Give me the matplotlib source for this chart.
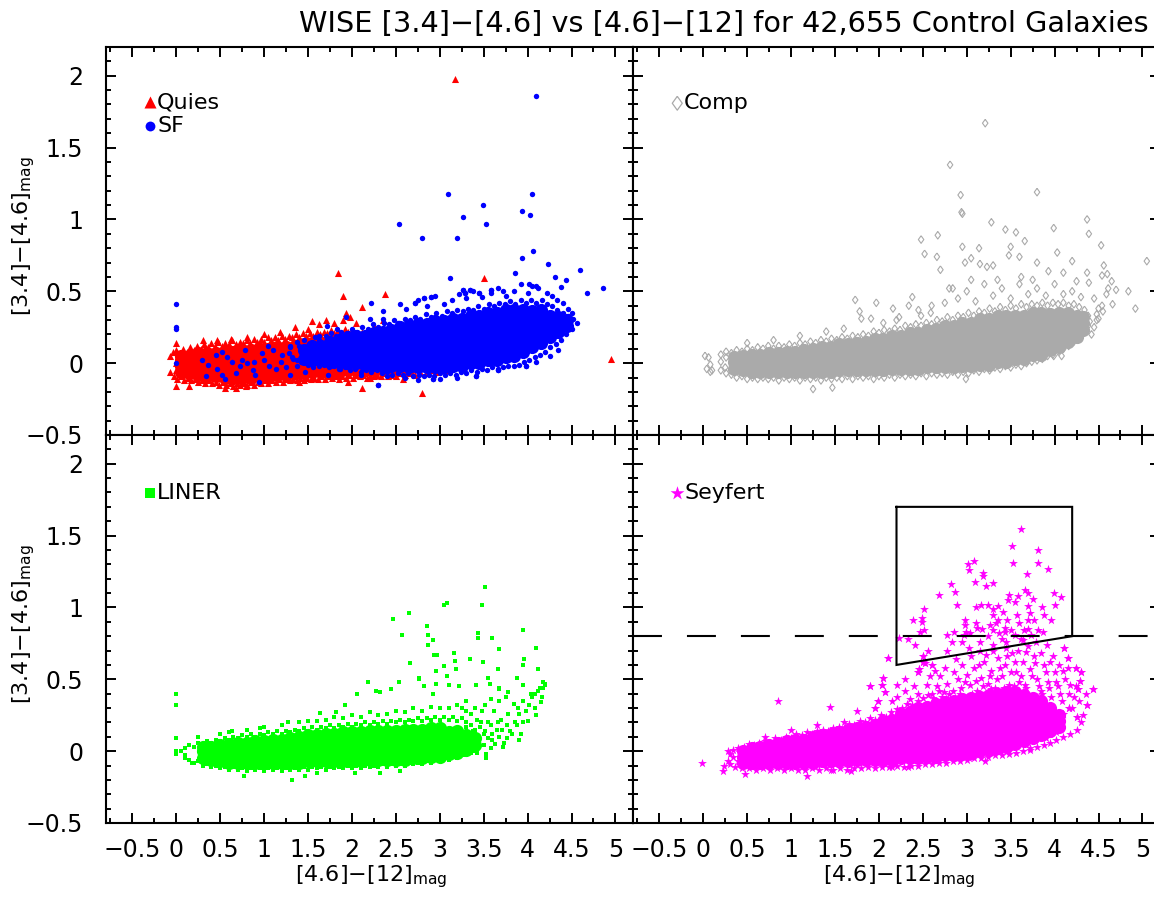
import matplotlib
matplotlib.use("Agg")
import matplotlib.pyplot as plt
from matplotlib.ticker import MultipleLocator

plt.rcParams["font.family"] = ["DejaVu Sans"]
plt.rcParams["mathtext.fontset"] = "dejavusans"

# ---------------------------------------------------------------- text
TITLE = "WISE [3.4]\u2212[4.6] vs [4.6]\u2212[12] for 42,655 Control Galaxies"
X_LABEL = "[4.6]\u2212[12]$_{\\mathrm{mag}}$"
Y_LABEL = "[3.4]\u2212[4.6]$_{\\mathrm{mag}}$"
X_TICKS = [-0.5, 0, 0.5, 1, 1.5, 2, 2.5, 3, 3.5, 4, 4.5, 5]
X_TICK_LABELS = ["\u22120.5", "0", "0.5", "1", "1.5", "2", "2.5", "3", "3.5", "4", "4.5", "5"]
Y_TICKS = [-0.5, 0, 0.5, 1, 1.5, 2]
Y_TICK_LABELS = ["\u22120.5", "0", "0.5", "1", "1.5", "2"]
CLASS_NAMES = ["Quies", "SF", "Comp", "LINER", "Seyfert"]

# ---------------------------------------------------------------- data
# Dense parts of each population: (colour [4.6]-[12], [colours [3.4]-[4.6]])
QUIES_CORE = [
    (0.05, [-0.06, -0.02, 0.02, 0.05]),
    (0.15, [-0.07, -0.03, 0.01, 0.05]),
    (0.25, [-0.08, -0.04, 0.00, 0.04, 0.07]),
    (0.35, [-0.09, -0.05, -0.01, 0.03, 0.07]),
    (0.45, [-0.09, -0.05, -0.01, 0.03, 0.07]),
    (0.55, [-0.10, -0.06, -0.02, 0.02, 0.06, 0.08]),
    (0.65, [-0.10, -0.06, -0.02, 0.02, 0.06, 0.08]),
    (0.75, [-0.10, -0.06, -0.02, 0.02, 0.06, 0.09]),
    (0.85, [-0.10, -0.06, -0.02, 0.02, 0.06, 0.09]),
    (0.95, [-0.09, -0.05, -0.01, 0.03, 0.07, 0.10]),
    (1.05, [-0.09, -0.05, -0.01, 0.03, 0.07, 0.10]),
    (1.15, [-0.08, -0.04, 0.00, 0.04, 0.08, 0.11]),
    (1.25, [-0.08, -0.04, 0.00, 0.04, 0.08, 0.11]),
    (1.35, [-0.07, -0.03, 0.01, 0.05, 0.09, 0.12]),
    (1.45, [-0.07, -0.03, 0.01, 0.05, 0.09, 0.13]),
    (1.55, [-0.06, -0.02, 0.02, 0.06, 0.10, 0.14]),
    (1.65, [-0.06, -0.02, 0.02, 0.06, 0.10, 0.14]),
    (1.75, [-0.06, -0.02, 0.02, 0.06, 0.10, 0.15]),
    (1.85, [-0.06, -0.02, 0.02, 0.06, 0.10, 0.15]),
    (1.95, [-0.05, -0.01, 0.03, 0.07, 0.11, 0.15]),
    (2.05, [-0.05, -0.01, 0.03, 0.07, 0.11, 0.15]),
    (2.15, [-0.05, -0.01, 0.03, 0.07, 0.11]),
    (2.25, [-0.05, -0.01, 0.03, 0.07, 0.11]),
    (2.35, [-0.05, -0.01, 0.03, 0.07]),
    (2.45, [-0.05, -0.01, 0.03]),
    (2.55, [-0.04, 0.00]),
    (2.65, [-0.04, 0.00]),
]
QUIES_POINTS = [
    (-0.07, 0.05), (-0.04, 0.08), (0.00, 0.09), (0.04, 0.07), (0.08, 0.10), (0.12, 0.08), (0.16, 0.11),
    (0.20, 0.09), (0.24, 0.12), (0.28, 0.10), (0.32, 0.13), (0.36, 0.11), (0.40, 0.14), (0.44, 0.12),
    (0.48, 0.15), (0.52, 0.12), (0.56, 0.14), (0.60, 0.13), (0.64, 0.16), (0.68, 0.13), (0.72, 0.15),
    (0.76, 0.14), (0.80, 0.16), (0.84, 0.14), (0.88, 0.17), (0.92, 0.15), (0.96, 0.17), (1.00, 0.15),
    (1.04, 0.18), (1.08, 0.16), (1.12, 0.18), (1.16, 0.16), (1.20, 0.19), (1.24, 0.17), (1.28, 0.19),
    (1.32, 0.18), (1.36, 0.20), (1.40, 0.18), (1.44, 0.21), (1.48, 0.19), (1.52, 0.21), (1.56, 0.19),
    (1.60, 0.22), (1.64, 0.20), (1.68, 0.22), (1.72, 0.21), (1.76, 0.23), (1.80, 0.21), (1.84, 0.23),
    (1.88, 0.21), (1.92, 0.24), (1.96, 0.22), (2.00, 0.23), (2.06, 0.21), (2.12, 0.22), (2.18, 0.20),
    (2.24, 0.21), (2.30, 0.18), (2.36, 0.19), (2.42, 0.16), (2.50, 0.13),
    (-0.07, -0.06), (-0.03, -0.09), (0.01, -0.11), (0.05, -0.09), (0.09, -0.12), (0.13, -0.10),
    (0.17, -0.12), (0.21, -0.11), (0.25, -0.13), (0.29, -0.12), (0.33, -0.14), (0.37, -0.12),
    (0.41, -0.14), (0.45, -0.13), (0.49, -0.15), (0.53, -0.13), (0.57, -0.15), (0.61, -0.14),
    (0.65, -0.16), (0.69, -0.14), (0.73, -0.15), (0.77, -0.14), (0.81, -0.15), (0.85, -0.13),
    (0.89, -0.15), (0.93, -0.13), (0.97, -0.14), (1.01, -0.12), (1.05, -0.14), (1.09, -0.12),
    (1.13, -0.13), (1.17, -0.11), (1.21, -0.13), (1.25, -0.11), (1.29, -0.12), (1.33, -0.11),
    (1.37, -0.12), (1.41, -0.10), (1.45, -0.12), (1.49, -0.10), (1.53, -0.11), (1.57, -0.10),
    (1.61, -0.11), (1.65, -0.09), (1.69, -0.11), (1.73, -0.09), (1.77, -0.10), (1.81, -0.09),
    (1.85, -0.11), (1.89, -0.09), (1.93, -0.10), (1.97, -0.08), (2.01, -0.10), (2.05, -0.08),
    (2.09, -0.09), (2.13, -0.08), (2.17, -0.10), (2.21, -0.08), (2.25, -0.09), (2.29, -0.08),
    (2.33, -0.09), (2.37, -0.07), (2.41, -0.09), (2.45, -0.08), (2.50, -0.09), (2.55, -0.07),
    (2.60, -0.08), (2.66, -0.07), (2.72, -0.08), (2.78, -0.06), (2.84, -0.07), (2.90, -0.05),
    (2.96, -0.06), (3.02, -0.04), (3.10, -0.05),
    (0.30, 0.16), (0.46, 0.16), (0.62, 0.17), (0.80, 0.18), (1.00, 0.20), (1.18, 0.22), (1.35, 0.25),
    (1.50, 0.24), (1.62, 0.27), (1.71, 0.30), (1.80, 0.28), (1.90, 0.30), (2.35, 0.30), (2.12, 0.39),
    (1.93, 0.35), (1.90, 0.47), (2.38, 0.48), (1.84, 0.63), (3.50, 0.59), (3.17, 1.98), (4.95, 0.03),
    (0.00, 0.14), (2.25, 0.26), (2.05, 0.28), (1.55, 0.29), (1.98, 0.32),
    (2.80, -0.21), (2.11, -0.17), (1.95, -0.13), (0.00, -0.16), (0.15, -0.16), (0.79, -0.16),
    (2.58, -0.11), (2.20, -0.10), (0.68, -0.17), (1.40, -0.13), (0.55, -0.17), (0.00, 0.00),
    (0.00, -0.05),
]

SF_CORE = [
    (1.45, [0.03, 0.09]),
    (1.55, [0.02, 0.07, 0.12]),
    (1.65, [0.02, 0.07, 0.12]),
    (1.75, [0.01, 0.06, 0.11, 0.15]),
    (1.85, [0.01, 0.06, 0.11, 0.16]),
    (1.95, [0.00, 0.05, 0.10, 0.15, 0.18]),
    (2.05, [0.00, 0.05, 0.10, 0.15, 0.19]),
    (2.15, [-0.01, 0.04, 0.09, 0.14, 0.19]),
    (2.25, [-0.01, 0.04, 0.09, 0.14, 0.19, 0.21]),
    (2.35, [-0.02, 0.03, 0.08, 0.13, 0.18, 0.22]),
    (2.45, [-0.02, 0.03, 0.08, 0.13, 0.18, 0.23]),
    (2.55, [-0.02, 0.03, 0.08, 0.13, 0.18, 0.23, 0.25]),
    (2.65, [-0.03, 0.02, 0.07, 0.12, 0.17, 0.22, 0.26]),
    (2.75, [-0.03, 0.02, 0.07, 0.12, 0.17, 0.22, 0.27]),
    (2.85, [-0.03, 0.02, 0.07, 0.12, 0.17, 0.22, 0.27]),
    (2.95, [-0.03, 0.02, 0.07, 0.12, 0.17, 0.22, 0.27, 0.29]),
    (3.05, [-0.03, 0.02, 0.07, 0.12, 0.17, 0.22, 0.27, 0.29]),
    (3.15, [-0.02, 0.03, 0.08, 0.13, 0.18, 0.23, 0.28, 0.31]),
    (3.25, [-0.02, 0.03, 0.08, 0.13, 0.18, 0.23, 0.28, 0.31]),
    (3.35, [0.00, 0.05, 0.10, 0.15, 0.20, 0.25, 0.30, 0.33]),
    (3.45, [0.00, 0.05, 0.10, 0.15, 0.20, 0.25, 0.30, 0.33]),
    (3.55, [0.02, 0.07, 0.12, 0.17, 0.22, 0.27, 0.32, 0.35]),
    (3.65, [0.02, 0.07, 0.12, 0.17, 0.22, 0.27, 0.32, 0.35]),
    (3.75, [0.04, 0.09, 0.14, 0.19, 0.24, 0.29, 0.34, 0.37]),
    (3.85, [0.05, 0.10, 0.15, 0.20, 0.25, 0.30, 0.35, 0.37]),
    (3.95, [0.08, 0.13, 0.18, 0.23, 0.28, 0.33, 0.37]),
    (4.05, [0.11, 0.16, 0.21, 0.26, 0.31, 0.36]),
    (4.15, [0.14, 0.19, 0.24, 0.29, 0.34, 0.37]),
    (4.25, [0.18, 0.23, 0.28, 0.33]),
    (4.35, [0.22, 0.27, 0.32]),
    (4.45, [0.26, 0.30]),
]
SF_POINTS = [
    (1.30, 0.12), (1.38, 0.15), (1.45, 0.16), (1.52, 0.14), (1.58, 0.18), (1.63, 0.16), (1.70, 0.19),
    (1.76, 0.21), (1.82, 0.19), (1.88, 0.22), (1.94, 0.21), (2.00, 0.24), (2.06, 0.22), (2.12, 0.25),
    (2.18, 0.24), (2.24, 0.27), (2.30, 0.25), (2.36, 0.28), (2.42, 0.27), (2.48, 0.30), (2.54, 0.28),
    (2.60, 0.31), (2.66, 0.30), (2.72, 0.32), (2.78, 0.31), (2.84, 0.34), (2.90, 0.32), (2.96, 0.35),
    (3.02, 0.33), (3.08, 0.36), (3.14, 0.35), (3.20, 0.37), (3.26, 0.36), (3.32, 0.38), (3.38, 0.37),
    (3.44, 0.40), (3.50, 0.38), (3.56, 0.41), (3.62, 0.40), (3.68, 0.42), (3.74, 0.41), (3.80, 0.43),
    (3.86, 0.41), (3.92, 0.44), (3.98, 0.42), (4.04, 0.44), (4.10, 0.42), (4.16, 0.44), (4.22, 0.41),
    (4.28, 0.40), (4.34, 0.37), (4.40, 0.35), (4.46, 0.33), (4.52, 0.31), (4.56, 0.28),
    (4.50, 0.24), (4.44, 0.20), (4.38, 0.16), (4.32, 0.13), (4.26, 0.11), (4.20, 0.08), (4.14, 0.06),
    (4.08, 0.04), (4.02, 0.02), (3.96, 0.01), (3.90, -0.01), (3.84, -0.02), (3.78, -0.02),
    (3.72, -0.03), (3.66, -0.04), (3.60, -0.03), (3.54, -0.05), (3.48, -0.04), (3.42, -0.06),
    (3.36, -0.05), (3.30, -0.07), (3.24, -0.06), (3.18, -0.08), (3.12, -0.07), (3.06, -0.08),
    (3.00, -0.07), (2.94, -0.09), (2.88, -0.08), (2.82, -0.09), (2.76, -0.08), (2.70, -0.09),
    (2.64, -0.07), (2.58, -0.08), (2.52, -0.07), (2.46, -0.08), (2.40, -0.06), (2.34, -0.07),
    (2.28, -0.05), (2.22, -0.06), (2.16, -0.05), (2.10, -0.06), (2.04, -0.04), (1.98, -0.05),
    (1.92, -0.03), (1.86, -0.04), (1.80, -0.02), (1.74, -0.03), (1.68, -0.01), (1.62, -0.02),
    (1.56, 0.00), (1.50, -0.01), (1.44, 0.01), (1.38, 0.02), (1.32, 0.04), (1.28, 0.07),
    (2.20, 0.31), (2.35, 0.36), (2.55, 0.41), (2.62, 0.38), (2.75, 0.44), (2.86, 0.40), (2.95, 0.47),
    (3.05, 0.41), (3.14, 0.44), (3.22, 0.48), (3.30, 0.45), (3.38, 0.50), (3.48, 0.46), (3.58, 0.49),
    (3.66, 0.52), (3.75, 0.47), (3.85, 0.50), (3.92, 0.55), (4.00, 0.49), (4.12, 0.52), (4.22, 0.49),
    (4.28, 0.47), (4.34, 0.44), (4.40, 0.42), (4.46, 0.38), (4.50, 0.35),
    (3.26, 0.51), (3.29, 0.49), (3.34, 0.51), (3.45, 0.49), (3.58, 0.51), (3.72, 0.50),
    (2.22, 0.42), (2.72, 0.42), (2.82, 0.45), (2.90, 0.46),
    (2.60, -0.10), (2.75, -0.12), (3.00, -0.11), (3.20, -0.10), (3.41, -0.09), (3.66, -0.05),
    (3.98, -0.02), (4.10, 0.01), (4.25, 0.05), (4.35, 0.09), (2.30, -0.15), (2.92, -0.11),
    (2.40, -0.09), (2.10, -0.08),
    (0.29, 0.02), (0.36, -0.01), (0.46, -0.04), (0.52, -0.08), (0.56, -0.11), (0.63, 0.01),
    (0.72, -0.02), (0.75, 0.02), (0.81, 0.00), (0.87, -0.05), (0.88, 0.01), (0.94, -0.13),
    (1.00, 0.02), (1.06, -0.02), (1.13, -0.04), (1.19, 0.01), (1.25, -0.03), (1.29, -0.08),
    (1.33, 0.03), (1.37, -0.02), (1.42, 0.01), (1.46, -0.06), (1.50, 0.05), (1.56, -0.03),
    (1.60, 0.00), (1.65, 0.01), (1.73, -0.08), (1.75, -0.02), (1.83, 0.24), (1.85, -0.04),
    (1.88, 0.01), (1.94, -0.02), (2.00, 0.02),
    (0.45, 0.06), (0.58, 0.04), (0.68, -0.07), (0.98, 0.07), (1.10, 0.09), (1.20, 0.06), (1.30, 0.11),
    (1.40, 0.12), (0.90, -0.08), (0.34, -0.09), (0.52, 0.08), (0.78, 0.09), (1.05, 0.12),
    (0.00, 0.41), (0.00, 0.25), (0.00, 0.24), (0.00, 0.00),
    (1.72, 0.26), (1.93, 0.32), (2.53, 0.28), (2.07, 0.21), (2.35, 0.31), (1.77, 0.15), (1.62, 0.19),
    (4.09, 1.86), (3.09, 1.18), (4.05, 1.18), (3.49, 1.10), (3.94, 1.06), (4.03, 1.03), (3.26, 1.02),
    (2.54, 0.97), (3.53, 0.97), (2.80, 0.87), (3.20, 0.87), (4.06, 0.78), (3.94, 0.73), (4.23, 0.69),
    (3.12, 0.59), (3.86, 0.63), (4.31, 0.60), (4.60, 0.65), (4.86, 0.52), (4.68, 0.49), (4.02, 0.55),
    (4.05, 0.54), (4.09, 0.54), (4.38, 0.53), (4.44, 0.58), (3.26, 0.51), (3.29, 0.49), (3.34, 0.51),
    (3.45, 0.49), (3.58, 0.51), (2.82, 0.45), (2.72, 0.42), (2.90, 0.46), (2.30, -0.15), (2.92, -0.11),
    (3.41, -0.09), (3.66, -0.05), (3.98, -0.02),
]

COMP_CORE = [
    (0.35, [-0.04, 0.01, 0.04]),
    (0.45, [-0.05, 0.00, 0.05]),
    (0.55, [-0.06, -0.01, 0.04, 0.06]),
    (0.65, [-0.06, -0.01, 0.04, 0.06]),
    (0.75, [-0.06, -0.01, 0.04, 0.07]),
    (0.85, [-0.06, -0.01, 0.04, 0.07]),
    (0.95, [-0.06, -0.01, 0.04, 0.08]),
    (1.05, [-0.06, -0.01, 0.04, 0.08]),
    (1.15, [-0.06, -0.01, 0.04, 0.09]),
    (1.25, [-0.06, -0.01, 0.04, 0.09, 0.10]),
    (1.35, [-0.06, -0.01, 0.04, 0.09, 0.11]),
    (1.45, [-0.06, -0.01, 0.04, 0.09, 0.11]),
    (1.55, [-0.05, 0.00, 0.05, 0.10, 0.13]),
    (1.65, [-0.05, 0.00, 0.05, 0.10, 0.13]),
    (1.75, [-0.05, 0.00, 0.05, 0.10, 0.14]),
    (1.85, [-0.05, 0.00, 0.05, 0.10, 0.15]),
    (1.95, [-0.05, 0.00, 0.05, 0.10, 0.15, 0.17]),
    (2.05, [-0.05, 0.00, 0.05, 0.10, 0.15, 0.17]),
    (2.15, [-0.04, 0.01, 0.06, 0.11, 0.16, 0.19]),
    (2.25, [-0.04, 0.01, 0.06, 0.11, 0.16, 0.19]),
    (2.35, [-0.04, 0.01, 0.06, 0.11, 0.16, 0.21]),
    (2.45, [-0.04, 0.01, 0.06, 0.11, 0.16, 0.21]),
    (2.55, [-0.03, 0.02, 0.07, 0.12, 0.17, 0.22, 0.23]),
    (2.65, [-0.03, 0.02, 0.07, 0.12, 0.17, 0.22, 0.24]),
    (2.75, [-0.03, 0.02, 0.07, 0.12, 0.17, 0.22, 0.26]),
    (2.85, [-0.03, 0.02, 0.07, 0.12, 0.17, 0.22, 0.26]),
    (2.95, [-0.02, 0.03, 0.08, 0.13, 0.18, 0.23, 0.28]),
    (3.05, [-0.02, 0.03, 0.08, 0.13, 0.18, 0.23, 0.28]),
    (3.15, [-0.01, 0.04, 0.09, 0.14, 0.19, 0.24, 0.29, 0.31]),
    (3.25, [-0.01, 0.04, 0.09, 0.14, 0.19, 0.24, 0.29, 0.31]),
    (3.35, [0.01, 0.06, 0.11, 0.16, 0.21, 0.26, 0.31, 0.33]),
    (3.45, [0.01, 0.06, 0.11, 0.16, 0.21, 0.26, 0.31, 0.33]),
    (3.55, [0.03, 0.08, 0.13, 0.18, 0.23, 0.28, 0.33]),
    (3.65, [0.03, 0.08, 0.13, 0.18, 0.23, 0.28, 0.33]),
    (3.75, [0.06, 0.11, 0.16, 0.21, 0.26, 0.31, 0.35]),
    (3.85, [0.06, 0.11, 0.16, 0.21, 0.26, 0.31, 0.35]),
    (3.95, [0.09, 0.14, 0.19, 0.24, 0.29, 0.34]),
    (4.05, [0.11, 0.16, 0.21, 0.26, 0.31, 0.35]),
    (4.15, [0.15, 0.20, 0.25, 0.30, 0.35]),
    (4.25, [0.18, 0.23, 0.28, 0.33]),
    (4.32, [0.23, 0.28, 0.32]),
]
COMP_POINTS = [
    (0.20, 0.06), (0.26, 0.08), (0.32, 0.07), (0.38, 0.09), (0.44, 0.08), (0.50, 0.10), (0.56, 0.09),
    (0.62, 0.11), (0.68, 0.10), (0.74, 0.12), (0.80, 0.10), (0.86, 0.12), (0.92, 0.11), (0.98, 0.13),
    (1.04, 0.12), (1.10, 0.14), (1.16, 0.13), (1.22, 0.15), (1.28, 0.14), (1.34, 0.16), (1.40, 0.15),
    (1.46, 0.17), (1.52, 0.16), (1.58, 0.18), (1.64, 0.17), (1.70, 0.19), (1.76, 0.18), (1.82, 0.20),
    (1.88, 0.19), (1.94, 0.22), (2.00, 0.21), (2.06, 0.23), (2.12, 0.22), (2.18, 0.24), (2.24, 0.23),
    (2.30, 0.26), (2.36, 0.25), (2.42, 0.27), (2.48, 0.26), (2.54, 0.28), (2.60, 0.27), (2.66, 0.30),
    (2.72, 0.29), (2.78, 0.32), (2.84, 0.30), (2.90, 0.33), (2.96, 0.32), (3.02, 0.35), (3.08, 0.33),
    (3.14, 0.36), (3.20, 0.35), (3.26, 0.38), (3.32, 0.36), (3.38, 0.39), (3.44, 0.37), (3.50, 0.40),
    (3.56, 0.38), (3.62, 0.41), (3.68, 0.39), (3.74, 0.41), (3.80, 0.40), (3.86, 0.42), (3.92, 0.40),
    (3.98, 0.42), (4.04, 0.41), (4.10, 0.42), (4.16, 0.40), (4.22, 0.41), (4.28, 0.39), (4.34, 0.37),
    (4.38, 0.33), (4.40, 0.29),
    (0.20, -0.05), (0.26, -0.07), (0.32, -0.08), (0.38, -0.10), (0.44, -0.09), (0.50, -0.11),
    (0.56, -0.10), (0.62, -0.11), (0.68, -0.10), (0.74, -0.11), (0.80, -0.10), (0.86, -0.12),
    (0.92, -0.10), (0.98, -0.11), (1.04, -0.10), (1.10, -0.12), (1.16, -0.10), (1.22, -0.11),
    (1.28, -0.10), (1.34, -0.12), (1.40, -0.10), (1.46, -0.11), (1.52, -0.10), (1.58, -0.11),
    (1.64, -0.09), (1.70, -0.11), (1.76, -0.09), (1.82, -0.10), (1.88, -0.09), (1.94, -0.11),
    (2.00, -0.09), (2.06, -0.10), (2.12, -0.08), (2.18, -0.10), (2.24, -0.08), (2.30, -0.09),
    (2.36, -0.08), (2.42, -0.09), (2.48, -0.07), (2.54, -0.09), (2.60, -0.07), (2.66, -0.08),
    (2.72, -0.07), (2.78, -0.08), (2.84, -0.06), (2.90, -0.08), (2.96, -0.06), (3.02, -0.07),
    (3.08, -0.05), (3.14, -0.06), (3.20, -0.04), (3.26, -0.05), (3.32, -0.03), (3.38, -0.04),
    (3.44, -0.02), (3.50, -0.03), (3.56, -0.01), (3.62, -0.02), (3.68, 0.00), (3.74, 0.01),
    (3.80, 0.02), (3.86, 0.03), (3.92, 0.05), (3.98, 0.06), (4.04, 0.08), (4.10, 0.10), (4.16, 0.12),
    (4.22, 0.15), (4.28, 0.18), (4.34, 0.22), (4.38, 0.26),
    (0.02, 0.05), (0.06, 0.04), (0.04, -0.04), (0.08, -0.06), (0.10, -0.05), (0.08, -0.01),
    (0.20, 0.01), (0.26, 0.04), (0.25, -0.03), (1.25, -0.18), (1.47, -0.17), (2.99, -0.11),
    (4.08, 0.05), (3.99, 0.05), (1.73, 0.44), (1.78, 0.36), (1.80, 0.31), (1.91, 0.31), (1.97, 0.42),
    (2.16, 0.38), (2.23, 0.32), (2.34, 0.40), (2.38, 0.46), (2.48, 0.33), (2.59, 0.35), (2.80, 0.52),
    (2.84, 0.52), (3.21, 1.67), (2.81, 1.38), (2.93, 1.17), (2.94, 1.05), (2.95, 1.04), (3.80, 1.19),
    (3.28, 0.98), (2.48, 0.86), (2.67, 0.89), (2.52, 0.76), (2.66, 0.74), (2.70, 0.65), (3.44, 0.93),
    (3.56, 0.91), (3.66, 0.85), (3.99, 0.94), (4.37, 1.00), (4.39, 0.90), (4.53, 0.82), (4.03, 0.77),
    (4.20, 0.71), (5.05, 0.71), (4.92, 0.38), (4.84, 0.50), (4.70, 0.51), (3.14, 0.80), (2.95, 0.81),
    (3.05, 0.73), (2.98, 0.70), (3.50, 0.81), (3.48, 0.75), (3.60, 0.74), (3.80, 0.70), (3.93, 0.64),
    (4.10, 0.63), (3.30, 0.68), (3.23, 0.67), (3.15, 0.69), (4.56, 0.68), (4.60, 0.62), (4.54, 0.61),
    (4.65, 0.57), (4.61, 0.52), (4.59, 0.48), (4.66, 0.41), (4.54, 0.40), (4.37, 0.63), (4.39, 0.56),
    (2.90, 0.45), (3.00, 0.50), (3.10, 0.43), (3.20, 0.55), (3.30, 0.47), (3.40, 0.52), (3.50, 0.45),
    (3.60, 0.55), (3.70, 0.48), (3.80, 0.52), (3.90, 0.47), (4.00, 0.55), (4.10, 0.48), (4.20, 0.50),
    (4.30, 0.46), (4.45, 0.45), (4.50, 0.38), (4.48, 0.30), (4.45, 0.25), (4.42, 0.20), (3.35, 0.58),
    (3.62, 0.60), (2.75, 0.42), (2.60, 0.40), (2.45, 0.37), (2.20, 0.30), (2.05, 0.28), (1.60, 0.24),
    (1.40, 0.22), (1.10, 0.19), (0.80, 0.16), (0.50, 0.14), (3.05, 0.58), (3.75, 0.58), (4.25, 0.57),
    (4.50, 0.31), (4.55, 0.36), (4.48, 0.34),
]

LINER_CORE = [
    (0.30, [-0.05, 0.00, 0.03]),
    (0.40, [-0.06, -0.02, 0.03]),
    (0.50, [-0.07, -0.03, 0.02, 0.04]),
    (0.60, [-0.08, -0.03, 0.02, 0.05]),
    (0.70, [-0.08, -0.03, 0.02, 0.06]),
    (0.80, [-0.08, -0.03, 0.02, 0.06]),
    (0.90, [-0.08, -0.03, 0.02, 0.07]),
    (1.00, [-0.08, -0.03, 0.02, 0.07]),
    (1.10, [-0.08, -0.03, 0.02, 0.07, 0.08]),
    (1.20, [-0.08, -0.03, 0.02, 0.07, 0.08]),
    (1.30, [-0.08, -0.03, 0.02, 0.07, 0.09]),
    (1.40, [-0.08, -0.03, 0.02, 0.07, 0.10]),
    (1.50, [-0.07, -0.02, 0.03, 0.08, 0.11]),
    (1.60, [-0.07, -0.02, 0.03, 0.08, 0.11]),
    (1.70, [-0.07, -0.02, 0.03, 0.08, 0.12]),
    (1.80, [-0.07, -0.02, 0.03, 0.08, 0.12]),
    (1.90, [-0.07, -0.02, 0.03, 0.08, 0.13]),
    (2.00, [-0.07, -0.02, 0.03, 0.08, 0.13]),
    (2.10, [-0.07, -0.02, 0.03, 0.08, 0.13]),
    (2.20, [-0.06, -0.01, 0.04, 0.09, 0.14]),
    (2.30, [-0.06, -0.01, 0.04, 0.09, 0.14]),
    (2.40, [-0.06, -0.01, 0.04, 0.09, 0.14]),
    (2.50, [-0.06, -0.01, 0.04, 0.09, 0.14]),
    (2.60, [-0.06, -0.01, 0.04, 0.09, 0.15]),
    (2.70, [-0.05, 0.00, 0.05, 0.10, 0.15]),
    (2.80, [-0.05, 0.00, 0.05, 0.10, 0.15]),
    (2.90, [-0.04, 0.01, 0.06, 0.11, 0.16]),
    (3.00, [-0.04, 0.01, 0.06, 0.11, 0.16]),
    (3.10, [-0.02, 0.03, 0.08, 0.13]),
    (3.20, [-0.01, 0.04, 0.09, 0.14]),
    (3.30, [0.01, 0.06, 0.11]),
    (3.40, [0.04, 0.09]),
]
LINER_POINTS = [
    (0.10, 0.02), (0.15, 0.04), (0.20, 0.03), (0.25, 0.06), (0.30, 0.05), (0.35, 0.07), (0.40, 0.06),
    (0.45, 0.08), (0.50, 0.07), (0.55, 0.09), (0.60, 0.08), (0.65, 0.10), (0.70, 0.09), (0.75, 0.11),
    (0.80, 0.10), (0.85, 0.12), (0.90, 0.10), (0.95, 0.12), (1.00, 0.11), (1.05, 0.13), (1.10, 0.12),
    (1.15, 0.14), (1.20, 0.12), (1.25, 0.14), (1.30, 0.13), (1.35, 0.15), (1.40, 0.14), (1.45, 0.16),
    (1.50, 0.14), (1.55, 0.17), (1.60, 0.15), (1.65, 0.17), (1.70, 0.16), (1.75, 0.18), (1.80, 0.16),
    (1.85, 0.18), (1.90, 0.17), (1.95, 0.19), (2.00, 0.17), (2.05, 0.19), (2.10, 0.18), (2.15, 0.20),
    (2.20, 0.18), (2.25, 0.20), (2.30, 0.19), (2.35, 0.21), (2.40, 0.19), (2.45, 0.21), (2.50, 0.20),
    (2.55, 0.22), (2.60, 0.20), (2.65, 0.22), (2.70, 0.21), (2.75, 0.23), (2.80, 0.21), (2.85, 0.23),
    (2.90, 0.22), (2.95, 0.24), (3.00, 0.22), (3.05, 0.24), (3.10, 0.22), (3.15, 0.24), (3.20, 0.21),
    (3.25, 0.23), (3.30, 0.20), (3.35, 0.18), (3.40, 0.15),
    (0.10, -0.03), (0.15, -0.06), (0.20, -0.08), (0.25, -0.07), (0.30, -0.10), (0.35, -0.09),
    (0.40, -0.11), (0.45, -0.10), (0.50, -0.12), (0.55, -0.11), (0.60, -0.13), (0.65, -0.11),
    (0.70, -0.13), (0.75, -0.12), (0.80, -0.14), (0.85, -0.12), (0.90, -0.13), (0.95, -0.12),
    (1.00, -0.14), (1.05, -0.12), (1.10, -0.13), (1.15, -0.12), (1.20, -0.14), (1.25, -0.12),
    (1.30, -0.13), (1.35, -0.12), (1.40, -0.13), (1.45, -0.11), (1.50, -0.13), (1.55, -0.11),
    (1.60, -0.12), (1.65, -0.11), (1.70, -0.13), (1.75, -0.11), (1.80, -0.12), (1.85, -0.11),
    (1.90, -0.12), (1.95, -0.10), (2.00, -0.12), (2.05, -0.10), (2.10, -0.12), (2.15, -0.10),
    (2.20, -0.11), (2.25, -0.10), (2.30, -0.11), (2.35, -0.09), (2.40, -0.11), (2.45, -0.09),
    (2.50, -0.10), (2.55, -0.09), (2.60, -0.10), (2.65, -0.08), (2.70, -0.09), (2.75, -0.08),
    (2.80, -0.09), (2.85, -0.07), (2.90, -0.08), (2.95, -0.06), (3.00, -0.07), (3.05, -0.05),
    (3.10, -0.06), (3.15, -0.04), (3.20, -0.05), (3.25, -0.03), (3.30, -0.03), (3.35, -0.01),
    (3.40, 0.00),
    (3.32, 0.02), (3.36, 0.08), (3.38, 0.14), (3.42, -0.01), (3.44, 0.10), (3.46, 0.17), (3.50, 0.04),
    (3.52, 0.14), (3.55, 0.09), (3.58, 0.18), (3.40, 0.05), (3.47, 0.20), (3.53, -0.02), (3.60, 0.12),
    (3.63, 0.05), (3.66, 0.20), (3.68, 0.10), (3.35, 0.12), (3.30, 0.17),
    (3.45, 0.05), (3.50, 0.12), (3.55, 0.20), (3.60, 0.08), (3.62, 0.28), (3.65, 0.15), (3.70, 0.22),
    (3.72, 0.03), (3.78, 0.26), (3.80, 0.14), (3.84, 0.33), (3.86, 0.20), (3.90, 0.26), (3.92, 0.12),
    (3.95, 0.35), (3.98, 0.28), (4.02, 0.32), (4.05, 0.38), (4.08, 0.30), (4.10, 0.25), (4.12, 0.42),
    (4.15, 0.34), (4.18, 0.44), (4.20, 0.46), (4.16, 0.38), (3.42, 0.22), (3.48, 0.28), (3.52, 0.32),
    (3.40, 0.30), (3.35, 0.26), (3.30, 0.28), (3.25, 0.30), (3.58, 0.36), (3.68, 0.35), (3.75, 0.38),
    (3.30, 0.35), (3.20, 0.32), (3.10, 0.30), (3.00, 0.30), (2.90, 0.31), (2.80, 0.28), (2.70, 0.30),
    (2.60, 0.27), (2.50, 0.28), (2.40, 0.26), (2.30, 0.25), (2.20, 0.27), (2.10, 0.24), (2.00, 0.25),
    (1.90, 0.23), (1.80, 0.24), (1.70, 0.22), (1.60, 0.21), (1.50, 0.21), (1.40, 0.20), (1.20, 0.18),
    (1.00, 0.17), (0.80, 0.15), (0.60, 0.13), (0.05, 0.00), (0.00, 0.00),
    (3.51, 1.145), (3.48, 1.02), (3.05, 1.02), (3.08, 1.03), (2.65, 0.96), (2.47, 0.92), (2.85, 0.87),
    (2.87, 0.81), (2.92, 0.77), (2.87, 0.74), (2.57, 0.81), (3.95, 0.84), (3.43, 0.82), (3.43, 0.79),
    (3.60, 0.79), (4.09, 0.72), (3.68, 0.71), (2.94, 0.67), (2.97, 0.67), (3.16, 0.68), (3.17, 0.63),
    (3.34, 0.64), (3.96, 0.64), (3.95, 0.60), (3.49, 0.62), (2.66, 0.61), (3.05, 0.59), (2.96, 0.56),
    (3.18, 0.57), (3.66, 0.57), (4.12, 0.57), (3.08, 0.52), (2.76, 0.51), (2.76, 0.50), (3.88, 0.51),
    (3.55, 0.51), (2.18, 0.48), (2.54, 0.48), (4.18, 0.48), (4.20, 0.47), (2.82, 0.45), (2.96, 0.47),
    (3.10, 0.46), (3.22, 0.45), (3.95, 0.46), (4.14, 0.44), (3.41, 0.46), (3.57, 0.47), (2.27, 0.42),
    (2.45, 0.43), (2.32, 0.41), (3.67, 0.44), (3.68, 0.43), (3.78, 0.41), (4.04, 0.40), (4.08, 0.40),
    (2.06, 0.40), (2.92, 0.40), (0.00, 0.40), (0.00, 0.32), (0.00, 0.09), (0.00, -0.02), (1.32, -0.20),
    (2.32, -0.15), (2.55, -0.14), (2.04, -0.15), (1.46, -0.17), (1.60, -0.15), (0.77, -0.17),
    (3.53, -0.05), (3.58, 0.02), (3.90, 0.08), (3.82, 0.12), (3.77, 0.09), (3.73, 0.06), (3.89, 0.30),
    (4.00, 0.21), (3.95, 0.20), (3.88, 0.18), (3.76, 0.18), (3.71, 0.15), (1.64, 0.265), (1.92, 0.32),
    (1.82, 0.27), (1.27, 0.20), (0.95, 0.16), (0.63, 0.14), (0.25, 0.10), (0.50, 0.12), (0.10, -0.05),
    (0.18, -0.08),
]

SEYFERT_CORE = [
    (0.45, [-0.08, -0.04, 0.00]),
    (0.55, [-0.08, -0.04, 0.00, 0.02]),
    (0.65, [-0.08, -0.04, 0.00, 0.03]),
    (0.75, [-0.08, -0.04, 0.00, 0.04]),
    (0.85, [-0.08, -0.04, 0.00, 0.04, 0.06]),
    (0.95, [-0.08, -0.04, 0.00, 0.04, 0.07]),
    (1.05, [-0.08, -0.04, 0.00, 0.04, 0.08]),
    (1.15, [-0.08, -0.04, 0.00, 0.04, 0.08]),
    (1.25, [-0.08, -0.04, 0.00, 0.04, 0.08, 0.10]),
    (1.35, [-0.07, -0.03, 0.01, 0.05, 0.09, 0.11]),
    (1.45, [-0.07, -0.03, 0.01, 0.05, 0.09, 0.12]),
    (1.55, [-0.07, -0.03, 0.01, 0.05, 0.09, 0.13]),
    (1.65, [-0.07, -0.03, 0.01, 0.05, 0.09, 0.13, 0.15]),
    (1.75, [-0.06, -0.02, 0.02, 0.06, 0.10, 0.14, 0.16]),
    (1.85, [-0.06, -0.02, 0.02, 0.06, 0.10, 0.14, 0.17]),
    (1.95, [-0.06, -0.02, 0.02, 0.06, 0.10, 0.14, 0.18]),
    (2.05, [-0.06, -0.02, 0.02, 0.06, 0.10, 0.14, 0.18, 0.21]),
    (2.15, [-0.06, -0.02, 0.02, 0.06, 0.10, 0.14, 0.18, 0.22]),
    (2.25, [-0.05, -0.01, 0.03, 0.07, 0.11, 0.15, 0.19, 0.23, 0.26]),
    (2.35, [-0.05, -0.01, 0.03, 0.07, 0.11, 0.15, 0.19, 0.23, 0.27]),
    (2.45, [-0.05, -0.01, 0.03, 0.07, 0.11, 0.15, 0.19, 0.23, 0.27, 0.30]),
    (2.55, [-0.04, 0.00, 0.04, 0.08, 0.12, 0.16, 0.20, 0.24, 0.28, 0.31]),
    (2.65, [-0.04, 0.00, 0.04, 0.08, 0.12, 0.16, 0.20, 0.24, 0.28, 0.33]),
    (2.75, [-0.03, 0.01, 0.05, 0.09, 0.13, 0.17, 0.21, 0.25, 0.29, 0.34]),
    (2.85, [-0.03, 0.01, 0.05, 0.09, 0.13, 0.17, 0.21, 0.25, 0.29, 0.35]),
    (2.95, [-0.02, 0.02, 0.06, 0.10, 0.14, 0.18, 0.22, 0.26, 0.30, 0.36]),
    (3.05, [-0.01, 0.03, 0.07, 0.11, 0.15, 0.19, 0.23, 0.27, 0.31, 0.37]),
    (3.15, [0.00, 0.04, 0.08, 0.12, 0.16, 0.20, 0.24, 0.28, 0.32, 0.38]),
    (3.25, [0.01, 0.05, 0.09, 0.13, 0.17, 0.21, 0.25, 0.29, 0.33, 0.39]),
    (3.35, [0.02, 0.06, 0.10, 0.14, 0.18, 0.22, 0.26, 0.30, 0.34, 0.40]),
    (3.45, [0.03, 0.07, 0.11, 0.15, 0.19, 0.23, 0.27, 0.31, 0.35, 0.41]),
    (3.55, [0.05, 0.09, 0.13, 0.17, 0.21, 0.25, 0.29, 0.33, 0.37, 0.41]),
    (3.65, [0.07, 0.11, 0.15, 0.19, 0.23, 0.27, 0.31, 0.35, 0.39]),
    (3.75, [0.09, 0.13, 0.17, 0.21, 0.25, 0.29, 0.33, 0.37]),
    (3.85, [0.11, 0.15, 0.19, 0.23, 0.27, 0.31, 0.35]),
    (3.95, [0.14, 0.18, 0.22, 0.26, 0.30]),
    (4.05, [0.17, 0.21, 0.25]),
]
SEYFERT_POINTS = [
    (2.60, 0.40), (2.66, 0.45), (2.72, 0.38), (2.78, 0.47), (2.84, 0.42), (2.90, 0.50), (2.94, 0.44),
    (3.00, 0.53), (3.04, 0.46), (3.08, 0.58), (3.12, 0.42), (3.16, 0.51), (3.20, 0.62), (3.24, 0.47),
    (3.28, 0.56), (3.32, 0.44), (3.36, 0.65), (3.40, 0.52), (3.44, 0.60), (3.48, 0.46), (3.52, 0.68),
    (3.56, 0.55), (3.60, 0.48), (3.64, 0.62), (3.68, 0.44), (3.72, 0.57), (3.76, 0.66), (3.80, 0.50),
    (3.84, 0.42), (3.88, 0.60), (3.92, 0.48), (3.96, 0.38), (4.00, 0.55), (4.04, 0.45), (4.08, 0.35),
    (4.12, 0.50), (4.16, 0.40), (4.20, 0.30), (4.24, 0.45), (4.28, 0.35), (4.32, 0.25), (4.36, 0.40),
    (3.30, 0.70), (3.45, 0.72), (3.58, 0.70), (3.70, 0.73), (3.05, 0.66), (3.15, 0.70), (2.95, 0.60),
    (2.85, 0.55), (2.70, 0.52), (2.55, 0.46), (2.45, 0.40), (2.35, 0.36), (3.85, 0.68), (3.95, 0.62),
    (4.05, 0.60), (4.15, 0.58), (3.38, 0.58), (3.62, 0.52), (3.54, 0.45), (3.26, 0.52), (3.10, 0.49),
    (2.75, 0.58), (2.88, 0.64), (2.98, 0.48), (3.02, 0.72), (3.14, 0.60), (3.18, 0.45), (3.22, 0.67),
    (3.34, 0.50), (3.42, 0.44), (3.46, 0.66), (3.50, 0.55), (3.55, 0.62), (3.66, 0.46), (3.68, 0.69),
    (3.74, 0.52), (3.78, 0.61), (3.82, 0.45), (3.90, 0.55), (3.98, 0.66), (4.02, 0.48), (4.06, 0.40),
    (4.10, 0.56), (4.18, 0.46), (4.22, 0.38), (2.58, 0.52), (2.64, 0.56), (2.80, 0.40), (2.92, 0.40),
    (3.06, 0.40), (3.28, 0.43), (3.60, 0.42), (3.86, 0.40), (3.94, 0.44), (2.40, 0.45), (2.30, 0.50),
    (2.20, 0.46), (2.56, 0.70), (2.78, 0.70), (3.40, 0.78), (3.62, 0.78),
    (4.30, 0.20), (4.25, 0.15), (4.18, 0.12), (4.10, 0.10), (4.02, 0.08), (3.95, 0.06), (3.88, 0.04),
    (3.80, 0.03), (3.72, 0.01), (3.64, 0.00), (3.56, -0.01), (3.48, -0.02), (3.40, -0.03),
    (3.32, -0.03), (3.24, -0.04), (3.16, -0.05), (3.08, -0.05), (3.00, -0.06), (2.92, -0.07),
    (2.84, -0.07), (2.76, -0.08), (2.68, -0.08), (2.60, -0.09), (2.52, -0.09), (2.44, -0.10),
    (2.36, -0.10), (2.28, -0.11), (2.20, -0.10), (2.12, -0.11), (2.04, -0.11), (1.96, -0.12),
    (1.88, -0.11), (1.80, -0.12), (1.72, -0.12), (1.64, -0.13), (1.56, -0.12), (1.48, -0.13),
    (1.40, -0.12), (1.32, -0.13), (1.24, -0.12), (1.16, -0.13), (1.08, -0.13), (1.00, -0.12),
    (0.92, -0.13), (0.84, -0.12), (0.76, -0.13), (0.68, -0.12), (0.60, -0.13), (0.52, -0.12),
    (0.44, -0.12), (0.36, -0.11), (0.30, -0.09),
    (0.30, -0.02), (0.34, 0.01), (0.40, 0.02), (0.46, 0.03), (0.52, 0.05), (0.58, 0.04), (0.64, 0.06),
    (0.70, 0.07), (0.76, 0.06), (0.82, 0.09), (0.88, 0.08), (0.94, 0.10), (1.00, 0.09), (1.06, 0.12),
    (1.12, 0.11), (1.18, 0.13), (1.24, 0.12), (1.30, 0.14), (1.36, 0.15), (1.42, 0.14), (1.48, 0.16),
    (1.54, 0.17), (1.60, 0.16), (1.66, 0.19), (1.72, 0.18), (1.78, 0.21), (1.84, 0.20), (1.90, 0.23),
    (1.96, 0.22), (2.02, 0.25), (2.08, 0.24), (2.14, 0.27), (2.20, 0.29), (2.26, 0.30), (2.32, 0.33),
    (2.38, 0.32), (2.44, 0.35), (2.50, 0.37), (2.56, 0.39), (2.62, 0.37), (2.68, 0.42), (2.74, 0.41),
    (-0.02, -0.08), (0.23, -0.14), (0.24, -0.10), (0.28, -0.07), (0.28, 0.00), (0.34, -0.04),
    (0.39, -0.07), (0.48, -0.16), (1.18, -0.17), (1.68, -0.14), (1.45, -0.13), (2.15, -0.11),
    (2.33, -0.11), (3.03, -0.05), (3.21, -0.07), (3.48, 0.00), (3.72, 0.02), (3.90, 0.09), (3.95, 0.12),
    (4.02, 0.13), (0.85, 0.35), (1.44, 0.31), (1.95, 0.30), (1.99, 0.35), (2.07, 0.41), (1.90, 0.45),
    (2.04, 0.46), (2.05, 0.51), (2.10, 0.65), (2.50, 0.66), (2.50, 0.62), (2.52, 0.61), (2.60, 0.60),
    (2.46, 0.57), (2.44, 0.55), (4.24, 0.58), (4.30, 0.55), (4.29, 0.49), (4.27, 0.43), (4.44, 0.43),
    (4.37, 0.32), (4.26, 0.24), (4.16, 0.30), (4.09, 0.26), (4.11, 0.72), (4.15, 0.65), (1.60, 0.20),
    (1.30, 0.18), (1.00, 0.15), (0.70, 0.10), (1.75, 0.28), (2.20, 0.38), (2.30, 0.42), (2.15, 0.35),
    (3.62, 1.545), (3.52, 1.43), (3.81, 1.40), (3.53, 1.31), (3.81, 1.31), (3.92, 1.27), (3.01, 1.30),
    (3.08, 1.32), (3.03, 1.26), (3.18, 1.24), (3.19, 1.22), (3.69, 1.23), (3.09, 1.18), (3.30, 1.17),
    (3.22, 1.15), (2.82, 1.16), (2.87, 1.11), (2.68, 1.09), (3.66, 1.12), (3.70, 1.10), (3.58, 1.08),
    (3.48, 1.09), (3.99, 1.10), (4.07, 1.07), (4.01, 1.02), (3.75, 1.06), (3.55, 1.04), (3.47, 1.05),
    (2.89, 1.02), (3.16, 1.02), (3.24, 1.02), (3.10, 1.00), (3.30, 0.99), (3.36, 1.01), (3.70, 1.01),
    (2.51, 0.99), (2.49, 0.93), (2.39, 0.91), (2.49, 0.90), (3.30, 0.95), (3.41, 0.97), (3.57, 0.95),
    (3.72, 0.96), (3.86, 1.00), (3.88, 0.95), (3.96, 0.91), (2.98, 0.91), (3.10, 0.89), (2.98, 0.88),
    (3.35, 0.91), (3.46, 0.91), (3.70, 0.91), (3.77, 0.91), (3.27, 0.88), (3.33, 0.89), (3.59, 0.89),
    (3.12, 0.86), (3.17, 0.85), (3.43, 0.86), (2.51, 0.84), (2.47, 0.83), (2.85, 0.83), (2.99, 0.83),
    (3.30, 0.84), (3.43, 0.83), (3.50, 0.84), (3.65, 0.84), (3.70, 0.85), (3.81, 0.84), (3.87, 0.83),
    (2.77, 0.81), (2.97, 0.81), (3.04, 0.82), (3.24, 0.80), (3.37, 0.82), (3.55, 0.81), (3.73, 0.81),
    (2.23, 0.79), (2.33, 0.78), (2.41, 0.74), (2.83, 0.76), (2.95, 0.76), (3.15, 0.76), (3.30, 0.74),
    (3.45, 0.76), (3.64, 0.77), (3.79, 0.76), (3.91, 0.74), (4.11, 0.72), (4.15, 0.65), (2.10, 0.65),
    (2.50, 0.66), (2.50, 0.62), (2.52, 0.61), (2.60, 0.60), (2.46, 0.57), (2.44, 0.55), (4.24, 0.58),
    (4.30, 0.55), (4.29, 0.49), (4.27, 0.43), (4.44, 0.43), (4.37, 0.32), (4.26, 0.24), (4.16, 0.30),
    (4.09, 0.26), (2.05, 0.51), (2.04, 0.46), (1.90, 0.45), (2.07, 0.41), (1.99, 0.35), (1.95, 0.30),
]

# Selection wedge for mid-IR AGN and the single-colour cut
WEDGE_X = [2.2, 4.2, 4.2, 2.2, 2.2]
WEDGE_Y = [1.7, 1.7, 0.8, 0.6, 1.7]
COLOUR_CUT = 0.8

# ---------------------------------------------------------------- figure
W_PX, H_PX = 1154, 902
fig = plt.figure(figsize=(W_PX / 100, H_PX / 100), dpi=100)

AX_L, AX_W = 106 / W_PX, 527 / W_PX
AX_H = 388 / H_PX
TOP_B = (H_PX - 435) / H_PX
BOT_B = (H_PX - 823) / H_PX
ax_q = fig.add_axes([AX_L, TOP_B, AX_W, AX_H])
ax_c = fig.add_axes([AX_L + AX_W, TOP_B, AX_W, AX_H])
ax_l = fig.add_axes([AX_L, BOT_B, AX_W, AX_H])
ax_s = fig.add_axes([AX_L + AX_W, BOT_B, AX_W, AX_H])

RED, BLUE, GREY, GREEN, MAGENTA = "#ff0000", "#0000ff", "#aaaaaa", "#00ff00", "#ff00ff"
DIAMOND = [(0, 1), (0.72, 0), (0, -1), (-0.72, 0), (0, 1)]
CORE_SIZE = 90


def expand(columns):
    xs, ys = [], []
    for x, col in columns:
        for y in col:
            xs.append(x)
            ys.append(y)
    return xs, ys


def unzip(points):
    return [p[0] for p in points], [p[1] for p in points]


def style(ax, xlabels, ylabels):
    ax.set_xlim(-0.8, 5.2)
    ax.set_ylim(-0.5, 2.2)
    ax.set_xticks(X_TICKS)
    ax.set_yticks(Y_TICKS)
    ax.xaxis.set_minor_locator(MultipleLocator(0.25))
    ax.yaxis.set_minor_locator(MultipleLocator(0.1))
    ax.tick_params(which="both", direction="in", top=True, right=True, width=1.4,
                   labelsize=17, colors="black")
    ax.tick_params(which="major", length=7.5)
    ax.tick_params(which="minor", length=3.8)
    ax.tick_params(axis="x", pad=11)
    ax.tick_params(axis="y", pad=16.5)
    if xlabels:
        ax.set_xticklabels(X_TICK_LABELS)
    else:
        ax.tick_params(axis="x", labelbottom=False)
    if ylabels:
        ax.set_yticklabels(Y_TICK_LABELS)
    else:
        ax.tick_params(axis="y", labelleft=False)
    for sp in ax.spines.values():
        sp.set_linewidth(1.5)


def key(ax, y, marker, size, label, face, edge=None, lw=0):
    ax.scatter([0.084], [y], transform=ax.transAxes, marker=marker, s=size,
               facecolors=face, edgecolors=edge if edge else face, linewidths=lw,
               clip_on=False, zorder=5)
    ax.text(0.097, y, label, transform=ax.transAxes, fontsize=16, ha="left", va="center")


# Quiescent + star-forming
qx, qy = expand(QUIES_CORE)
ax_q.scatter(qx, qy, s=CORE_SIZE, marker="o", color=RED, linewidths=0)
qx, qy = unzip(QUIES_POINTS)
ax_q.scatter(qx, qy, s=26, marker="^", color=RED, linewidths=0)
sx, sy = expand(SF_CORE)
ax_q.scatter(sx, sy, s=CORE_SIZE, marker="o", color=BLUE, linewidths=0)
sx, sy = unzip(SF_POINTS)
ax_q.scatter(sx, sy, s=15, marker="o", color=BLUE, linewidths=0)
key(ax_q, 0.857, "^", 75, CLASS_NAMES[0], RED)
key(ax_q, 0.797, "o", 50, CLASS_NAMES[1], BLUE)

# Composite
cx, cy = expand(COMP_CORE)
ax_c.scatter(cx, cy, s=CORE_SIZE, marker="o", color=GREY, linewidths=0)
cx, cy = unzip(COMP_POINTS)
ax_c.scatter(cx, cy, s=30, marker=DIAMOND, facecolors="none", edgecolors=GREY, linewidths=0.8)
key(ax_c, 0.855, DIAMOND, 100, CLASS_NAMES[2], "none", GREY, 0.9)

# LINER
lx, ly = expand(LINER_CORE)
ax_l.scatter(lx, ly, s=CORE_SIZE, marker="o", color=GREEN, linewidths=0)
lx, ly = unzip(LINER_POINTS)
ax_l.scatter(lx, ly, s=11, marker="s", color=GREEN, linewidths=0)
key(ax_l, 0.851, "s", 55, CLASS_NAMES[3], GREEN)

# Seyfert with the AGN wedge
yx, yy = expand(SEYFERT_CORE)
ax_s.scatter(yx, yy, s=CORE_SIZE, marker="o", color=MAGENTA, linewidths=0)
yx, yy = unzip(SEYFERT_POINTS)
ax_s.scatter(yx, yy, s=45, marker="*", color=MAGENTA, linewidths=0)
ax_s.plot(WEDGE_X, WEDGE_Y, color="black", lw=1.5, solid_joinstyle="miter", zorder=4)
ax_s.plot([-0.8, 5.2], [COLOUR_CUT, COLOUR_CUT], color="black", lw=1.5,
          dashes=(13.9, 12), zorder=4)
key(ax_s, 0.851, "*", 110, CLASS_NAMES[4], MAGENTA)

style(ax_q, False, True)
style(ax_c, False, False)
style(ax_l, True, True)
style(ax_s, True, False)

fig.text(724 / W_PX, (H_PX - 32) / H_PX, TITLE, fontsize=20.7, ha="center", va="baseline")
for yc in (236, 624):
    fig.text(24 / W_PX, (H_PX - yc) / H_PX, Y_LABEL, fontsize=16, rotation=90,
             ha="center", va="center")
for xc in (371, 899):
    fig.text(xc / W_PX, (H_PX - 881) / H_PX, X_LABEL, fontsize=16, ha="center", va="baseline")

fig.savefig("out.png", dpi=100)
